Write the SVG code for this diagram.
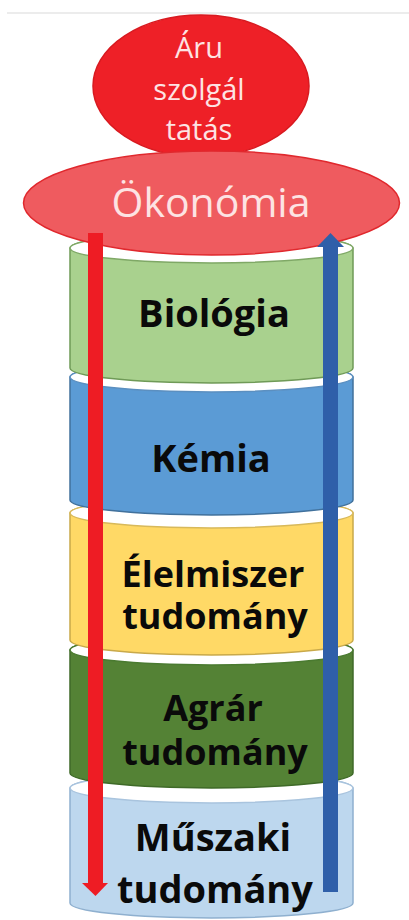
<svg xmlns="http://www.w3.org/2000/svg" width="409" height="920" viewBox="0 0 409 920">
<style>
.lbl{font-family:"Open Sans","Noto Sans",sans-serif;font-weight:700;font-size:38px;fill:#0a0a0a;text-anchor:middle}
.lbl2{font-size:36px}
.wt{font-family:"Open Sans","Noto Sans",sans-serif;fill:#fde3e3;text-anchor:middle}
.face{fill:#ffffff;stroke-width:1.5}
.side{stroke-width:1.5}
</style>
<rect width="409" height="920" fill="#ffffff"/>
<line x1="7" y1="13" x2="409" y2="13" stroke="#ececec" stroke-width="2"/>
<g id="muszaki">
<path class="side" d="M70,788 L70,903 A141.5,15 0 0 0 353,903 L353,788 A141.5,15 0 0 0 70,788 Z" fill="#bdd7ee" stroke="#8fb0cf"/>
<ellipse class="face" cx="211.5" cy="788" rx="141.5" ry="15" stroke="#a9c4de"/>
<text class="lbl"><tspan x="213" y="851">Műszaki</tspan><tspan x="215" y="903">tudomány</tspan></text>
</g>
<g id="agrar">
<path class="side" d="M70,650 L70,773 A141.5,15 0 0 0 353,773 L353,650 A141.5,15 0 0 0 70,650 Z" fill="#548235" stroke="#3f6a28"/>
<ellipse class="face" cx="211.5" cy="650" rx="141.5" ry="15" stroke="#4a7a30"/>
<text class="lbl lbl2"><tspan x="213" y="721">Agrár</tspan><tspan x="215" y="765">tudomány</tspan></text>
</g>
<g id="elelmiszer">
<path class="side" d="M70,513 L70,640 A141.5,15 0 0 0 353,640 L353,513 A141.5,15 0 0 0 70,513 Z" fill="#ffd966" stroke="#c9a94a"/>
<ellipse class="face" cx="211.5" cy="513" rx="141.5" ry="15" stroke="#d8b95a"/>
<text class="lbl lbl2"><tspan x="213" y="587">Élelmiszer</tspan><tspan x="215" y="629">tudomány</tspan></text>
</g>
<g id="kemia">
<path class="side" d="M70,377 L70,500 A141.5,15 0 0 0 353,500 L353,377 A141.5,15 0 0 0 70,377 Z" fill="#5b9bd5" stroke="#41719c"/>
<ellipse class="face" cx="211.5" cy="377" rx="141.5" ry="15" stroke="#5b8fc0"/>
<text class="lbl" x="211" y="472">Kémia</text>
</g>
<g id="biologia">
<path class="side" d="M70,248 L70,368 A141.5,15 0 0 0 353,368 L353,248 A141.5,15 0 0 0 70,248 Z" fill="#a9d18e" stroke="#6f9a57"/>
<ellipse class="face" cx="211.5" cy="248" rx="141.5" ry="15" stroke="#7fa866"/>
<text class="lbl" x="214" y="327">Biológia</text>
</g>
<g id="aru">
<ellipse cx="201" cy="86" rx="108" ry="71" fill="#ee2027" stroke="#d81a20" stroke-width="1.5"/>
<text class="wt" font-size="29"><tspan x="199" y="58">Áru</tspan><tspan x="199" y="100">szolgál</tspan><tspan x="199" y="140">tatás</tspan></text>
</g>
<g id="okonomia">
<ellipse cx="211.5" cy="203" rx="188" ry="52" fill="#ef5b5f" stroke="#e0282d" stroke-width="1.5"/>
<text class="wt" x="211" y="217" font-size="41">Ökonómia</text>
</g>
<g id="connectors">
<rect x="88" y="233" width="15" height="651" fill="#ee1c24"/>
<polygon points="82,883 108,883 95.5,896" fill="#ee1c24"/>
<rect x="323" y="246" width="15" height="646" fill="#2f5fa9"/>
<polygon points="317,247 344,247 330.5,233" fill="#2f5fa9"/>
</g>
</svg>
